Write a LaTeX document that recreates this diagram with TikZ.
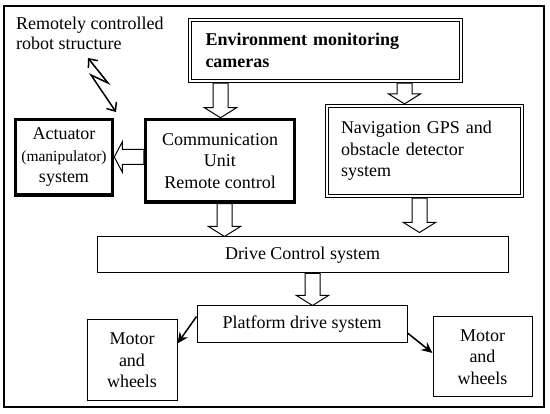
\documentclass[tikz,border=0pt]{standalone}
\usepackage{fontspec}
\setmainfont{Liberation Serif}
\usetikzlibrary{calc,arrows.meta}
\begin{document}
\begin{tikzpicture}[x=1pt,y=-1pt,
  base/.style={font=\fontsize{18}{21.5}\selectfont, inner sep=0pt},
  thin box/.style={base, draw, line width=1pt, align=center},
  thick box/.style={base, draw, line width=3.5pt, align=center},
  dbl box/.style={base, draw, line width=1.2pt, align=left},
  inner line/.style={line width=0.9pt},
  vblock/.style={line width=1pt, to path={let \p1=(\tikztostart), \p2=(\tikztotarget) in
     ({\x1-7.5pt},\y1) -- ({\x1-7.5pt},{\y2+10pt}) -- ({\x1-16pt},{\y2+10pt}) -- (\x1,\y2) -- ({\x1+16pt},{\y2+10pt}) -- ({\x1+7.5pt},{\y2+10pt}) -- ({\x1+7.5pt},\y1) -- cycle}},
  hblock/.style={line width=1pt, to path={let \p1=(\tikztostart), \p2=(\tikztotarget) in
     (\x1,{\y1+7.5pt}) -- ({\x2+8pt},{\y1+7.5pt}) -- ({\x2+8pt},{\y1+15pt}) -- (\x2,\y1) -- ({\x2+8pt},{\y1-15pt}) -- ({\x2+8pt},{\y1-7.5pt}) -- (\x1,{\y1-7.5pt}) -- cycle}},
  bolt/.style={line width=1.5pt, {Straight Barb[length=7pt,width=12pt]}-{Straight Barb[length=7pt,width=12pt]}},
  feed/.style={line width=1.5pt, -{Stealth[length=11pt,width=10pt]}}
]
\useasboundingbox (0,0) rectangle (550,414);
\draw[line width=1.5pt] (4,6) rectangle (544,407);

\node[base, anchor=west, align=left, font=\fontsize{18}{20}\selectfont] (title) at (16,33) {Remotely controlled\\robot structure};

\node[dbl box, minimum width=274pt, minimum height=64pt, text width=240pt, inner xsep=15pt, font=\fontsize{18}{21.5}\selectfont\bfseries] (cam) at (325.5,50.5) {Environment monitoring\\cameras};
\draw[inner line] ([shift={(3.5,3.5)}]cam.north west) rectangle ([shift={(-3.5,-3.5)}]cam.south east);
\node[dbl box, minimum width=198pt, minimum height=93pt, text width=167pt, inner xsep=14.5pt] (nav) at (424.5,151) {Navigation GPS and\\obstacle detector\\system};
\draw[inner line] ([shift={(3.5,3.5)}]nav.north west) rectangle ([shift={(-3.5,-3.5)}]nav.south east);
\node[thick box, minimum width=149pt, minimum height=82.5pt] (comm) at (220,160.75) {Communication\\Unit\\Remote control};
\node[thick box, minimum width=97pt, minimum height=75.5pt] (act) at (64,157.25) {Actuator\\{\fontsize{15.5}{21.5}\selectfont(manipulator)}\\system};
\node[thin box, minimum width=411pt, minimum height=36pt] (drive) at (302.5,255) {Drive Control system};
\node[thin box, minimum width=210pt, minimum height=37pt] (plat) at (302,324.5) {Platform drive system};
\node[thin box, minimum width=90pt, minimum height=81pt] (motl) at (132,360.5) {Motor\\and\\wheels};
\node[thin box, minimum width=99pt, minimum height=80pt] (motr) at (482.5,357) {Motor\\and\\wheels};

\coordinate (a1s) at (cam.south -| 220.5,0);
\coordinate (a1e) at (comm.north -| 220.5,0);
\coordinate (a2s) at (cam.south -| 404.5,0);
\coordinate (a2e) at (nav.north -| 404.5,0);
\coordinate (a3s) at (comm.south -| 224.5,0);
\coordinate (a3e) at (drive.north -| 224.5,0);
\coordinate (a4s) at (nav.south -| 419.5,0);
\coordinate (a4e) at ($(drive.north -| 419.5,0)+(0,-4)$);
\coordinate (a5s) at (drive.south -| 312.5,0);
\coordinate (a5e) at (plat.north -| 312.5,0);
\coordinate (a6s) at (comm.west |- 0,157);
\coordinate (a6e) at (act.east |- 0,157);

\draw[vblock] (a1s) to (a1e);
\draw[vblock] (a2s) to (a2e);
\draw[vblock] (a3s) to (a3e);
\draw[vblock] (a4s) to (a4e);
\draw[vblock] (a5s) to (a5e);
\draw[hblock] (a6s) to (a6e);

\coordinate (z1) at (88,58);
\coordinate (z2) at (108,83);
\coordinate (z3) at (91,75);
\coordinate (z4) at (116,112);
\draw[bolt] (z1) -- (z2) -- (z3) -- (z4);

\draw[feed] ($(plat.west)+(0,-8)$) -- ($(motl.east)+(0,-17)$);
\draw[feed] ($(plat.east)+(0,8.5)$) -- ($(motr.west)+(0,-4)$);
\end{tikzpicture}
\end{document}
